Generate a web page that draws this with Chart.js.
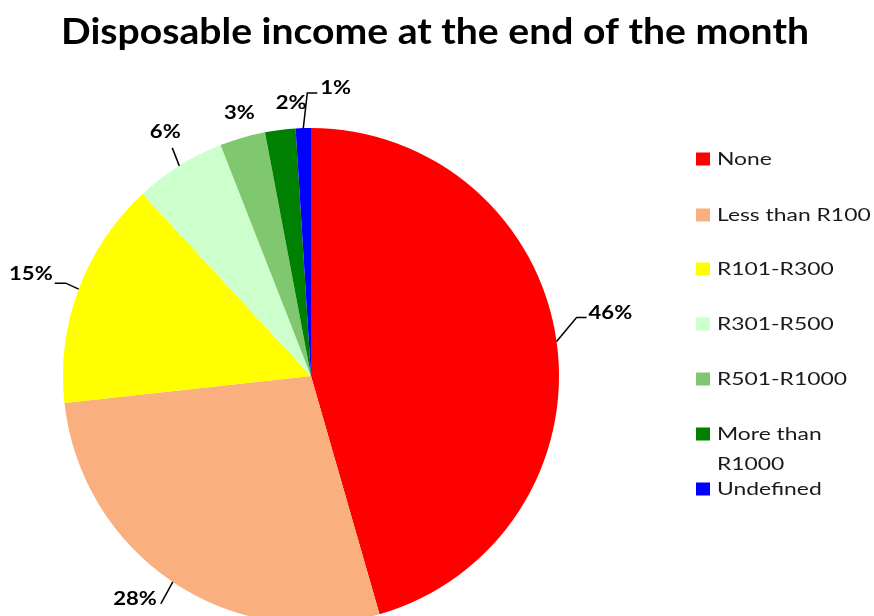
<!DOCTYPE html>
<html>
<head>
<meta charset="utf-8">
<script src="https://cdn.jsdelivr.net/npm/chart.js@4/dist/chart.umd.min.js"></script>
<style>
  html, body { margin: 0; padding: 0; background: #fff; overflow: hidden; }
  #wrap { width: 874px; height: 640px; }
</style>
</head>
<body>
<div id="wrap"><canvas id="c" width="874" height="640"></canvas></div>
<script>
const chartTitle = 'Disposable income at the end of the month';
const categories = ['None', 'Less than R100', 'R101-R300', 'R301-R500', 'R501-R1000', 'More than R1000', 'Undefined'];
const shares = [46, 28, 15, 6, 3, 2, 1];
const sliceColors = ['#FF0000', '#FAB07E', '#FFFF00', '#CCFFCC', '#80C870', '#008000', '#0000FF'];

const FONT = 'Lato, "Open Sans", sans-serif';

// Placement of each percentage label relative to the middle of its arc edge:
// leader = polyline points, text = anchor point, align = text alignment
const labelPlacement = [
  { leader: [[0, 0], [20, -24], [30, -24]], text: [32, -29], align: 'left' },
  { leader: [[0, 0], [-12, 22]], text: [-16, 17], align: 'right' },
  { leader: [[0, 0], [-13, -6], [-24, -6]], text: [-26, -15], align: 'right' },
  { leader: [[0, 0], [-7, -18]], text: [-14, -34], align: 'center' },
  { leader: null, text: [-3, -25], align: 'center' },
  { leader: null, text: [11, -27], align: 'center' },
  { leader: [[0, 0], [4, -35], [14, -35]], text: [17, -40], align: 'left' }
];

// Legend drawn at the right: lines of text per entry
const legendLines = [['None'], ['Less than R100'], ['R101-R300'], ['R301-R500'], ['R501-R1000'], ['More than', 'R1000'], ['Undefined']];
const legendRowY = [159, 215, 269, 324, 379, 434, 489];

// draw text widened horizontally around its anchor
function wideText(ctx, text, x, y, sx) {
  ctx.save();
  ctx.translate(x, y);
  ctx.scale(sx, 1);
  ctx.fillText(text, 0, 0);
  ctx.restore();
}

const decorations = {
  id: 'decorations',
  afterDraw(chart) {
    const ctx = chart.ctx;
    ctx.save();
    // title
    ctx.fillStyle = '#000';
    ctx.font = 'bold 37px ' + FONT;
    ctx.textAlign = 'center';
    ctx.textBaseline = 'middle';
    wideText(ctx, chartTitle, 435, 32, 1.057);

    // percentage labels with leader lines
    const meta = chart.getDatasetMeta(0);
    ctx.font = 'bold 19px ' + FONT;
    ctx.strokeStyle = '#000';
    ctx.lineWidth = 1.5;
    meta.data.forEach((arc, i) => {
      const mid = (arc.startAngle + arc.endAngle) / 2;
      const px = arc.x + Math.cos(mid) * arc.outerRadius;
      const py = arc.y + Math.sin(mid) * arc.outerRadius;
      const p = labelPlacement[i];
      if (p.leader) {
        ctx.beginPath();
        p.leader.forEach(([dx, dy], k) => {
          if (k === 0) ctx.moveTo(px + dx, py + dy); else ctx.lineTo(px + dx, py + dy);
        });
        ctx.stroke();
      }
      ctx.textAlign = p.align;
      ctx.textBaseline = 'middle';
      wideText(ctx, shares[i] + '%', px + p.text[0], py + p.text[1], 1.16);
    });

    // legend
    ctx.font = '18px ' + FONT;
    ctx.textAlign = 'left';
    ctx.textBaseline = 'middle';
    legendLines.forEach((lines, i) => {
      const y = legendRowY[i];
      ctx.fillStyle = sliceColors[i];
      ctx.fillRect(696, y - 6.5, 14, 13);
      ctx.fillStyle = '#1a1a1a';
      lines.forEach((t, k) => wideText(ctx, t, 717, y + k * 30, 1.27));
    });
    ctx.restore();
  }
};

new Chart(document.getElementById('c'), {
  type: 'pie',
  data: {
    labels: categories,
    datasets: [{
      data: shares,
      backgroundColor: sliceColors,
      borderWidth: 0
    }]
  },
  options: {
    responsive: false,
    animation: false,
    layout: { padding: { top: 128, left: 63, right: 315, bottom: 16 } },
    plugins: {
      legend: { display: false },
      tooltip: { enabled: false },
      title: { display: false }
    }
  },
  plugins: [decorations]
});
</script>
</body>
</html>
